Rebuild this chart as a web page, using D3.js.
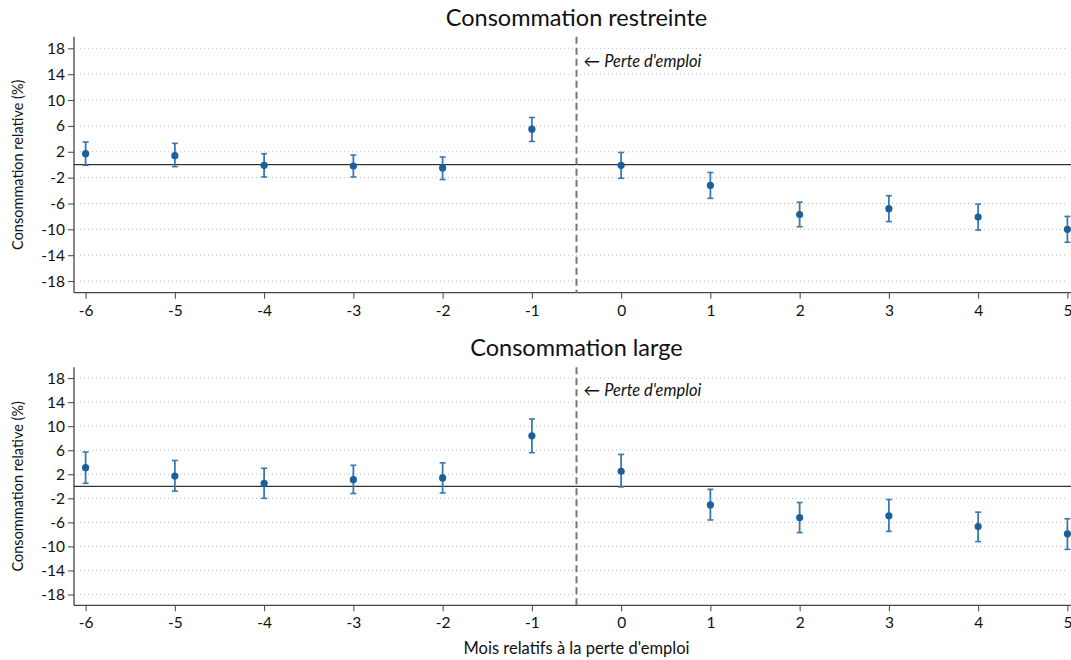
<!DOCTYPE html>
<html>
<head>
<meta charset="utf-8">
<script src="https://cdn.jsdelivr.net/npm/d3@7"></script>
<style>
  body { margin: 0; background: #fff; }
  svg { display: block; font-family: Lato, "Open Sans", sans-serif; }
</style>
</head>
<body>
<svg id="chart" width="1071" height="660"></svg>
<script>
// mois relatifs à la perte d'emploi
const months = [-6, -5, -4, -3, -2, -1, 0, 1, 2, 3, 4, 5]
const yTicks = [-18, -14, -10, -6, -2, 2, 6, 10, 14, 18]

// consommation restreinte : estimation, borne haute, borne basse
const restreinteEst = [1.7, 1.4, -0.1, -0.2, -0.5, 5.5, -0.1, -3.2, -7.7, -6.8, -8.1, -10.0]
const restreinteHi = [3.5, 3.3, 1.7, 1.5, 1.2, 7.3, 1.9, -1.2, -5.8, -4.8, -6.1, -8.0]
const restreinteLo = [-0.1, -0.3, -1.9, -1.9, -2.3, 3.6, -2.1, -5.2, -9.6, -8.8, -10.1, -12.0]

// consommation large
const largeEst = [3.1, 1.7, 0.5, 1.1, 1.4, 8.4, 2.5, -3.1, -5.2, -4.9, -6.7, -7.9]
const largeHi = [5.7, 4.3, 3.0, 3.5, 3.9, 11.2, 5.3, -0.5, -2.7, -2.2, -4.3, -5.4]
const largeLo = [0.5, -0.8, -2.0, -1.2, -1.1, 5.6, -0.1, -5.6, -7.7, -7.5, -9.2, -10.5]

const svg = d3.select('#chart')
const left = 74, right = 1079

const x = d3.scaleLinear().domain([-6.13, 5.13]).range([left, right])
// tirets simples comme dans l'original
const fmt = d => String(d)

function drawPanel(cfg) {
  const g = svg.append('g')
  const y = d3.scaleLinear().domain([-19.8, 19.8]).range([cfg.bottom, cfg.top])
  const pts = months.map((m, i) => ({ m: m, v: cfg.est[i], hi: cfg.hi[i], lo: cfg.lo[i] }))

  // titre
  g.append('text')
    .attr('x', (left + right) / 2)
    .attr('y', cfg.top - 11)
    .attr('text-anchor', 'middle')
    .attr('font-size', 23.5)
    .attr('fill', '#111')
    .text(cfg.title)

  // grille pointillée
  g.append('g').selectAll('line')
    .data(yTicks)
    .join('line')
    .attr('x1', left + 6).attr('x2', 1068)
    .attr('y1', d => y(d)).attr('y2', d => y(d))
    .attr('stroke', '#bbb')
    .attr('stroke-width', 1)
    .attr('stroke-dasharray', '1,3')

  // axe y
  const ya = g.append('g')
    .attr('transform', 'translate(' + left + ',0)')
    .call(d3.axisLeft(y).tickValues(yTicks).tickSize(6).tickPadding(3).tickFormat(fmt))
  ya.select('.domain').attr('stroke', '#444').attr('stroke-width', 1.3)
    .attr('d', 'M0,' + cfg.top + 'V' + cfg.bottom)
  ya.selectAll('.tick line').attr('stroke', '#444')
  ya.selectAll('text').attr('font-size', 15.5).attr('fill', '#111').attr('font-family', 'Lato, sans-serif')

  // axe x
  const xa = g.append('g')
    .attr('transform', 'translate(0,' + cfg.bottom + ')')
    .call(d3.axisBottom(x).tickValues(months).tickSize(6).tickPadding(6).tickFormat(fmt))
  xa.select('.domain').attr('stroke', '#444').attr('stroke-width', 1.3)
    .attr('d', 'M' + left + ',0H' + right)
  xa.selectAll('.tick line').attr('stroke', '#444')
  xa.selectAll('text').attr('font-size', 15.5).attr('fill', '#111').attr('font-family', 'Lato, sans-serif')

  // titre axe y
  g.append('text')
    .attr('transform', 'translate(23,' + (cfg.top + cfg.bottom) / 2 + ') rotate(-90)')
    .attr('text-anchor', 'middle')
    .attr('font-size', 14.5)
    .attr('fill', '#111')
    .text('Consommation relative (%)')

  // ligne zéro
  g.append('line')
    .attr('x1', left).attr('x2', right)
    .attr('y1', y(0)).attr('y2', y(0))
    .attr('stroke', '#000').attr('stroke-width', 1)

  // perte d'emploi
  g.append('line')
    .attr('x1', x(-0.5)).attr('x2', x(-0.5))
    .attr('y1', cfg.top).attr('y2', cfg.bottom)
    .attr('stroke', '#777').attr('stroke-width', 2)
    .attr('stroke-dasharray', '7,4')
  g.append('text')
    .attr('x', x(-0.5) + 7)
    .attr('y', y(16))
    .attr('dy', '0.35em')
    .attr('font-size', 16.5)
    .attr('fill', '#111')
    .html('\u2190 <tspan font-style="italic">Perte d\'emploi</tspan>')

  // intervalles
  const eb = g.append('g').selectAll('g')
    .data(pts)
    .join('g')
  eb.append('line')
    .attr('x1', d => x(d.m)).attr('x2', d => x(d.m))
    .attr('y1', d => y(d.hi)).attr('y2', d => y(d.lo))
    .attr('stroke', '#3a78b0').attr('stroke-width', 1.8)
  eb.append('line')
    .attr('x1', d => x(d.m) - 3).attr('x2', d => x(d.m) + 3)
    .attr('y1', d => y(d.hi)).attr('y2', d => y(d.hi))
    .attr('stroke', '#3a78b0').attr('stroke-width', 1.6)
  eb.append('line')
    .attr('x1', d => x(d.m) - 3).attr('x2', d => x(d.m) + 3)
    .attr('y1', d => y(d.lo)).attr('y2', d => y(d.lo))
    .attr('stroke', '#3a78b0').attr('stroke-width', 1.6)

  // points
  g.append('g').selectAll('circle')
    .data(pts)
    .join('circle')
    .attr('cx', d => x(d.m))
    .attr('cy', d => y(d.v))
    .attr('r', 3.6)
    .attr('fill', '#1b5f9b')
}

drawPanel({ title: 'Consommation restreinte', top: 36.7, bottom: 292.7,
  est: restreinteEst, hi: restreinteHi, lo: restreinteLo })
drawPanel({ title: 'Consommation large', top: 367.3, bottom: 605.3,
  est: largeEst, hi: largeHi, lo: largeLo })

svg.append('text')
  .attr('x', (left + right) / 2)
  .attr('y', 654)
  .attr('text-anchor', 'middle')
  .attr('font-size', 16.5)
  .attr('fill', '#111')
  .text("Mois relatifs à la perte d'emploi")
</script>
</body>
</html>
